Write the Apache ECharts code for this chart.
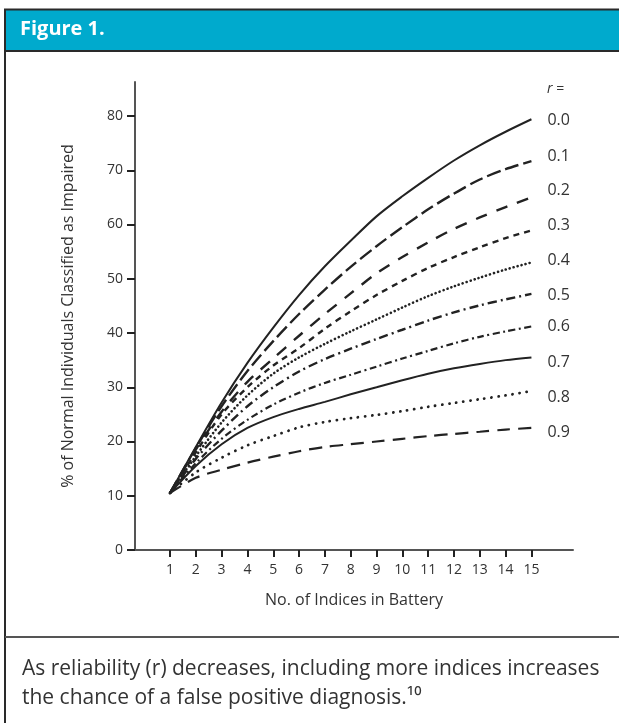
<!DOCTYPE html>
<html>
<head>
<meta charset="utf-8">
<script src="https://cdn.jsdelivr.net/npm/echarts@6/dist/echarts.min.js"></script>
<style>
html,body{margin:0;padding:0;background:#fff;}
#c{width:619px;height:723px;}
</style>
</head>
<body>
<div id="c"></div>
<script>
// ---- data ----
const indices = [1,2,3,4,5,6,7,8,9,10,11,12,13,14,15];
const xTicks = [1,2,3,4,5,6,7,8,9,10,11,12,13,14,15];
const yTicks = [0,10,20,30,40,50,60,70,80];
const rLabels = ['0.0','0.1','0.2','0.3','0.4','0.5','0.6','0.7','0.8','0.9'];
const r00 = [10.5, 19, 27.2, 34.5, 41, 47, 52.3, 57, 61.5, 65.2, 68.6, 71.8, 74.6, 77.1, 79.4];
const r01 = [10.5, 18.8, 26.5, 33, 38.5, 43.5, 48, 52.2, 56, 59.5, 62.8, 65.7, 68.3, 70.2, 71.7];
const r02 = [10.5, 18.5, 25.5, 31, 35.3, 39.5, 43.5, 47.3, 51, 54, 56.7, 59.2, 61.3, 63.2, 65];
const r03 = [10.5, 18, 25, 30, 34, 37.2, 40.8, 44, 47, 49.6, 52, 54, 55.8, 57.5, 58.9];
const r04 = [10.5, 17.3, 23.5, 28.5, 32.5, 35.5, 38, 40.3, 42.5, 44.7, 46.8, 48.6, 50.2, 51.7, 53];
const r05 = [10.5, 16.8, 22, 26.5, 30, 32.9, 35.2, 37.1, 38.9, 40.6, 42.3, 43.8, 45.1, 46.2, 47.2];
const r06 = [10.5, 16, 20.5, 24, 26.8, 29, 30.8, 32.3, 33.8, 35.3, 36.7, 38.1, 39.3, 40.3, 41.2];
const r07 = [10.5, 15.5, 19.5, 22.5, 24.5, 26, 27.3, 28.7, 30, 31.3, 32.5, 33.5, 34.3, 35, 35.5];
const r08 = [10.5, 14.3, 17, 19.3, 21, 22.6, 23.6, 24.3, 24.9, 25.6, 26.4, 27.1, 27.8, 28.5, 29.3];
const r09 = [10.5, 13.3, 14.8, 16.1, 17.2, 18.2, 19, 19.5, 20, 20.5, 21, 21.4, 21.8, 22.2, 22.5];
const seriesValues = [r00, r01, r02, r03, r04, r05, r06, r07, r08, r09];

// ---- styles ----
const INK = '#222';
const styles = [
  {type: 'solid', width: 2, cap: 'butt', off: [0, 1]},
  {type: [14, 5], width: 2.4, cap: 'butt', off: [0, -5]},
  {type: [12, 10], width: 2.4, cap: 'butt', off: [0, -7]},
  {type: [6, 5], width: 2.4, cap: 'butt', off: [0, -5]},
  {type: [0.1, 4], width: 2.6, cap: 'round', off: [0, -2]},
  {type: [9, 4, 2, 4], width: 2.4, cap: 'butt', off: [0, 1]},
  {type: [7, 3.5, 2, 3.5], width: 2.2, cap: 'butt', off: [0, 0]},
  {type: 'solid', width: 2, cap: 'butt', off: [0, 5]},
  {type: [0.1, 7], width: 2.8, cap: 'round', off: [0, 6]},
  {type: [13, 8], width: 2.2, cap: 'butt', off: [0, 4]}
];

const series = seriesValues.map((vals, i) => ({
  name: rLabels[i],
  type: 'line',
  data: indices.map((x, j) => [x, vals[j]]),
  symbol: 'none',
  smooth: 0.3,
  silent: true,
  lineStyle: {color: INK, width: styles[i].width, type: styles[i].type, cap: styles[i].cap},
  endLabel: {
    show: true,
    formatter: rLabels[i],
    color: '#333',
    fontSize: 16,
    fontFamily: 'Open Sans',
    distance: 16,
    offset: styles[i].off
  }
}));

const chart = echarts.init(document.getElementById('c'), null, {renderer: 'canvas'});
chart.setOption({
  animation: false,
  backgroundColor: '#fff',
  grid: {left: 135, right: 46, top: 82, bottom: 173},
  xAxis: {
    type: 'value',
    min: -0.355,
    max: 16.61,
    name: 'No. of Indices in Battery',
    nameLocation: 'middle',
    nameGap: 42,
    nameTextStyle: {color: '#333', fontSize: 16, fontFamily: 'Open Sans'},
    splitLine: {show: false},
    axisLine: {show: true, onZero: false, lineStyle: {color: '#555', width: 2}},
    axisTick: {show: true, customValues: xTicks, length: 7, inside: false, lineStyle: {color: INK, width: 2}},
    axisLabel: {show: true, customValues: xTicks, margin: 13, color: '#333', fontSize: 14, fontFamily: 'Open Sans'}
  },
  yAxis: {
    type: 'value',
    min: 0,
    max: 86.27,
    name: '% of Normal Individuals Classified as Impaired',
    nameLocation: 'middle',
    nameGap: 59,
    nameTextStyle: {color: '#333', fontSize: 16, fontFamily: 'Open Sans'},
    splitLine: {show: false},
    axisLine: {show: true, onZero: false, lineStyle: {color: '#555', width: 2}},
    axisTick: {show: true, customValues: yTicks, length: 8, lineStyle: {color: INK, width: 2}},
    axisLabel: {show: true, customValues: yTicks, margin: 12, color: '#333', fontSize: 14, fontFamily: 'Open Sans'}
  },
  graphic: [
    {type: 'rect', shape: {x: 5, y: 9.5, width: 620, height: 41.5}, style: {fill: '#00aacd', stroke: '#2a2a2a', lineWidth: 2}, silent: true},
    {type: 'text', left: 20, top: 19, style: {text: 'Figure 1.', fill: '#fff', font: 'bold 20px "Open Sans"'}},
    {type: 'line', shape: {x1: 5, y1: 51, x2: 5, y2: 723}, style: {stroke: '#2a2a2a', lineWidth: 2}},
    {type: 'line', shape: {x1: 5, y1: 637, x2: 619, y2: 637}, style: {stroke: '#555', lineWidth: 2}},
    {type: 'text', left: 547, top: 82, style: {
      text: '{i|r} =', fill: '#333', font: '14px "Open Sans"',
      rich: {i: {fontStyle: 'italic', fontSize: 14, fontFamily: 'Open Sans', fill: '#333'}}
    }},
    {type: 'text', left: 22, top: 655, style: {
      text: 'As reliability (r) decreases, including more indices increases\nthe chance of a false positive diagnosis.\u00b9\u2070',
      fill: '#333', font: '21px "Open Sans"', lineHeight: 29
    }}
  ],
  series: series
});
</script>
</body>
</html>
